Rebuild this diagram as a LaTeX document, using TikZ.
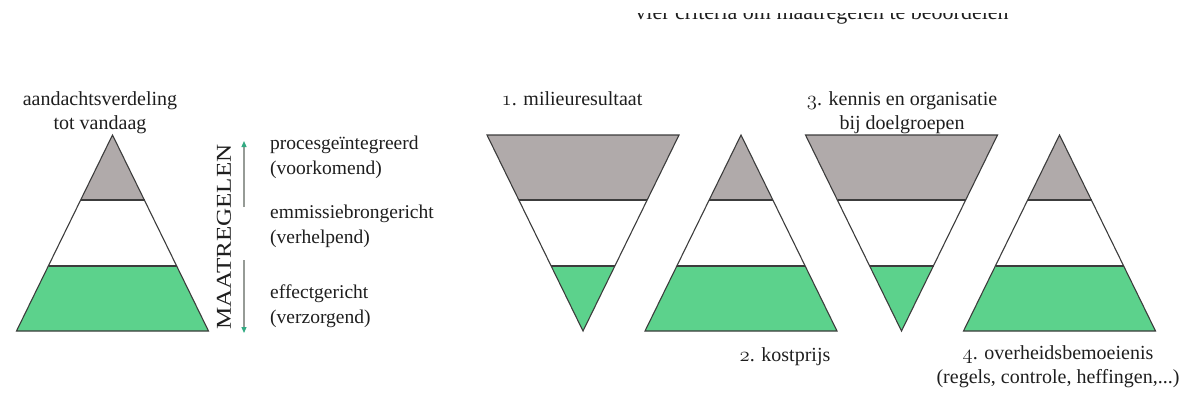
\documentclass[tikz,border=0pt]{standalone}
\usepackage{fontspec}
\usepackage{graphicx}
\setmainfont{Liberation Serif}
\usetikzlibrary{arrows.meta}
\newcommand\osnum[1]{{\usefont{OML}{cmm}{m}{it}#1}}
\definecolor{bandgray}{RGB}{176,170,170}
\definecolor{bandgreen}{RGB}{92,210,140}
\definecolor{edgegray}{RGB}{60,60,60}
\definecolor{arrowgreen}{RGB}{50,170,130}
\definecolor{shaftgray}{RGB}{150,155,150}
\definecolor{txt}{RGB}{30,30,30}
\begin{document}
\begin{tikzpicture}[x=1pt,y=-1pt,
  lbl/.style={inner sep=0pt, text=txt, font=\fontsize{20}{24}\selectfont, align=center},
  col/.style={lbl, anchor=west, align=left, font=\fontsize{19.5}{25}\selectfont},
  outline/.style={draw=edgegray, line width=1.1pt, line join=miter},
  divider/.style={draw=edgegray, line width=1.8pt},
  shaft/.style={draw=shaftgray, line width=1.2pt, -{Triangle[length=6pt,width=5pt,color=arrowgreen]}},
  pyrup/.pic={
    \fill[bandgray] (0,0) -- (32,65.33) -- (-32,65.33) -- cycle;
    \fill[bandgreen] (-64,130.67) -- (64,130.67) -- (96,196) -- (-96,196) -- cycle;
    \draw[divider] (-32,65.33) -- (32,65.33);
    \draw[divider] (-64,130.67) -- (64,130.67);
    \draw[outline] (0,0) -- (96,196) -- (-96,196) -- cycle;
  },
  pyrdown/.pic={
    \fill[bandgray] (-96,0) -- (96,0) -- (64,65.33) -- (-64,65.33) -- cycle;
    \fill[bandgreen] (-32,130.67) -- (32,130.67) -- (0,196) -- cycle;
    \draw[divider] (-64,65.33) -- (64,65.33);
    \draw[divider] (-32,130.67) -- (32,130.67);
    \draw[outline] (-96,0) -- (96,0) -- (0,196) -- cycle;
  }
]
\useasboundingbox (0,0) rectangle (1196,405);

% title, cut at the top as in the scan
\begin{scope}
  \clip (0,13.5) rectangle (1196,40);
  \node[lbl, anchor=base, font=\fontsize{22}{24}\selectfont] (title) at (822,19.5) {vier criteria om maatregelen te beoordelen};
\end{scope}

% triangles
\pic at (112.5,135) {pyrup};
\pic at (583,135) {pyrdown};
\pic at (741,135) {pyrup};
\pic at (901.5,135) {pyrdown};
\pic at (1059.5,135) {pyrup};

% headers
\node[lbl] (hleft) at (100,113) {aandachtsverdeling\\tot vandaag};
\node[lbl, anchor=base] (h1) at (572,105.5) {\osnum{1}. milieuresultaat};
\node[lbl] (h3) at (902,113) {\osnum{3}. kennis en organisatie\\bij doelgroepen};
\node[lbl, anchor=base] (h2) at (785,361.5) {\osnum{2}. kostprijs};
\node[lbl] (h4) at (1058,367) {\osnum{4}. overheidsbemoeienis\\(regels, controle, heffingen,...)};

% MAATREGELEN
\node[inner sep=0pt, text=txt, rotate=90] (maat) at (224,237) {\resizebox{185pt}{14pt}{MAATREGELEN}};

\coordinate (atop) at (244,141);
\coordinate (aup) at (244,207);
\coordinate (adown) at (244,260);
\coordinate (abot) at (244,333);
\draw[shaft] (aup) -- (atop);
\draw[shaft] (adown) -- (abot);

% measure labels
\node[col] (m1) at (270,157.5) {procesgeïntegreerd\\(voorkomend)};
\node[col] (m2) at (270,226.5) {emmissiebrongericht\\(verhelpend)};
\node[col] (m3) at (270,306.5) {effectgericht\\(verzorgend)};
\end{tikzpicture}
\end{document}
